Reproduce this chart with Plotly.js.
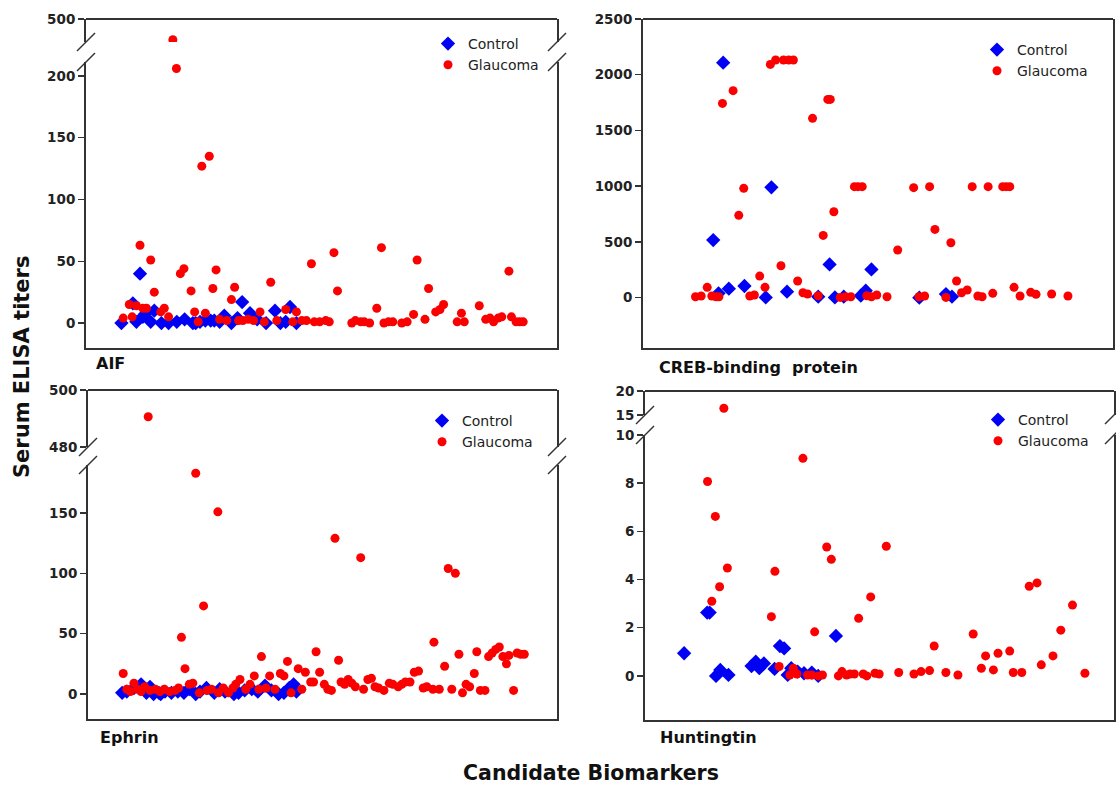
<!DOCTYPE html>
<html>
<head>
<meta charset="utf-8">
<script src="https://cdn.plot.ly/plotly-3.0.1.min.js"></script>
<style>html,body{margin:0;padding:0;background:#fff}#chart{width:1116px;height:786px}</style>
</head>
<body>
<div id="chart"></div>
<script>
// ---------------- DATA (sample position, titer) ----------------
const seriesNames = ['Control', 'Glaucoma'];
const panelNames = ['AIF', 'CREB-binding\u00a0 protein', 'Ephrin', 'Huntingtin'];

// AIF
const aifCtrlX = [34.0,37.2,38.2,39.2,40.0,40.5,42.2,43.2,45.2,47.2,49.5,51.7,54.0,54.8,56.0,57.5,59.0,60.0,61.5,62.8,64.8,66.5,67.8,70.0,72.0,74.5,77.0,78.5,80.0,81.2,83.0];
const aifCtrlY = [0,16,1,40,5,7,1,10,0,0,1,3,0,0,1,2,2,2,1,6,0,4,17,8,3,0,10,0,1,13,0];
const aifGlauX = [34.5,36.2,37.0,38.2,39.2,40.0,41.0,42.2,43.2,45.0,46.0,47.2,48.4,49.4,50.5,51.5,53.5,54.5,55.5,56.5,57.5,58.6,59.6,60.5,61.5,63.5,64.8,65.7,66.8,68.0,69.5,71.0,72.8,74.0,75.8,77.5,80.0,82.0,83.0,84.5,85.8,87.2,88.0,89.5,91.2,92.2,93.5,94.5,98.5,99.5,101.0,102.0,103.5,105.5,106.8,107.5,108.8,110.0,112.5,114.0,115.8,116.8,119.0,120.0,122.0,123.2,124.2,128.0,129.2,130.0,134.2,136.0,137.2,138.2,139.5,140.5,142.5,143.2,144.5,145.5,146.5];
const aifGlauY = [4,15,5,14,63,12,12,51,25,9,12,5,275,206,40,44,26,9,1,127,8,135,28,43,3,2,19,29,2,2,3,2,9,1,33,2,11,1,9,2,2,48,1,1,2,1,57,26,0,2,1,1,0,12,61,0,1,1,0,1,7,51,3,28,9,11,15,1,8,1,14,3,4,1,4,5,42,5,1,1,1];
const aifLowTicks = [0,50,100,150,200];
const aifUpTicks = [500];

// CREB-binding protein
const crebCtrlX = [43.2,44.7,46.0,47.6,52.0,58.0,59.6,64.0,72.8,76.0,77.5,80.0,84.8,86.2,87.8,101.3,108.8,110.5];
const crebCtrlY = [517,39,2108,81,105,3,990,54,9,299,3,9,18,63,254,0,33,9];
const crebGlauX = [38.2,39.8,41.5,42.8,44.0,44.8,45.8,48.8,50.4,51.8,53.5,54.8,56.3,57.8,59.3,60.8,62.3,63.0,64.5,65.8,67.0,68.5,69.8,71.2,72.8,74.2,75.5,76.2,77.2,79.0,80.5,82.0,83.0,84.0,85.2,86.5,87.8,89.3,92.2,95.2,99.7,101.2,102.8,104.2,105.7,108.8,110.2,111.8,113.2,114.8,116.2,117.8,119.0,120.7,122.0,124.8,125.8,126.8,128.0,129.7,132.7,134.2,138.6,143.2];
const crebGlauY = [9,15,93,15,9,9,1743,1857,739,981,15,24,194,93,2093,2132,287,2132,2132,2132,150,45,33,1609,18,559,1779,1779,771,3,9,9,996,996,996,18,9,24,9,428,987,9,15,996,613,3,493,150,45,69,996,15,9,996,39,996,996,996,93,15,48,30,33,15];
const crebTicks = [0,500,1000,1500,2000,2500];

// Ephrin
const ephCtrlX = [34.2,35.5,37.5,39.5,41.0,42.0,43.0,44.5,45.0,46.2,48.0,49.8,51.5,53.0,54.8,56.0,57.8,60.0,61.5,63.0,65.5,66.8,68.5,70.5,72.2,74.2,76.0,78.0,79.5,81.0,82.2,83.0];
const ephCtrlY = [1,2,5,8,1,6,0,1,0,2,1,2,1,4,0,2,5,1,4,2,0,1,3,4,2,7,3,0,1,5,8,2];
const ephGlauX = [34.5,35.5,36.5,37.5,38.5,39.5,40.5,41.5,42.0,43.5,44.8,46.0,47.5,49.0,50.0,50.8,51.8,53.0,54.0,54.8,55.8,57.0,58.0,59.2,61.0,61.2,62.5,64.0,65.2,66.0,67.2,68.8,70.0,71.2,72.5,73.2,74.5,75.5,77.0,78.5,79.5,80.5,81.5,83.5,84.5,85.5,87.0,87.8,88.5,89.5,90.8,91.8,92.8,93.8,94.8,95.5,96.5,97.5,98.5,99.5,101.0,101.8,103.0,104.0,105.0,106.0,107.5,109.0,110.0,111.5,112.5,113.5,114.8,116.0,117.2,118.5,119.5,121.2,121.5,123.0,124.5,125.5,126.5,127.5,128.5,129.5,130.5,131.5,132.8,133.5,134.5,135.8,136.8,137.8,138.8,139.8,140.8,141.8,142.5,143.8,144.8,145.8,146.8];
const ephGlauY = [17,4,2,9,4,2,6,490.6,3,4,2,4,2,3,5,47,21,8,9,183,1,73,3,4,151,1,5,1,5,8,12,4,8,15,4,31,5,15,4,17,15,27,1,21,4,18,10,10,35,18,8,4,3,129,28,10,8,12,9,6,113,4,12,13,6,5,3,9,8,6,8,10,10,18,19,5,6,4,43,4,23,104,4,100,33,1,8,6,17,35,3,3,31,34,37,39,31,25,32,3,34,33,33];
const ephLowTicks = [0,50,100,150];
const ephUpTicks = [480,500];

// Huntingtin
const hunCtrlX = [35.0,41.5,42.2,44.0,45.2,47.5,54.0,55.2,56.2,57.5,60.5,62.0,63.2,64.2,65.2,67.0,68.8,71.0,72.8,77.8];
const hunCtrlY = [0.94,2.63,2.63,0,0.25,0.04,0.41,0.59,0.32,0.52,0.29,1.24,1.14,0.04,0.32,0.18,0.11,0.14,0,1.66];
const hunGlauX = [41.6,42.8,43.8,45.0,46.2,47.2,59.6,60.6,61.8,64.8,65.8,66.8,68.5,69.8,71.0,71.8,72.8,74.0,75.2,76.5,78.5,79.5,80.8,81.8,83.0,84.2,85.5,86.5,87.6,88.8,90.0,92.0,95.5,99.8,101.8,104.2,105.5,108.8,112.2,116.5,118.8,120.0,122.2,123.5,126.8,127.8,130.2,132.3,134.5,135.7,139.0,141.2,144.5,148.0];
const hunGlauY = [8.07,3.10,6.62,3.70,16.4,4.48,2.46,4.34,0.39,0.04,0.32,0.08,9.03,0.04,0.04,1.83,0,0.04,5.35,4.84,0,0.18,0.04,0.08,0.08,2.39,0.08,0,3.28,0.11,0.08,5.38,0.14,0.08,0.18,0.22,1.24,0.14,0.04,1.74,0.32,0.83,0.25,0.94,1.03,0.14,0.14,3.72,3.86,0.46,0.83,1.90,2.94,0.11];
const hunLowTicks = [0,2,4,6,8,10];
const hunUpTicks = [15,20];

// ---------------- LAYOUT GEOMETRY (pixels in a 1116x786 page) ----------------
const W = 1116, H = 786;
const PX = v => v / W;
const PY = v => 1 - v / H;
const BLUE = 'rgb(0,0,245)';
const RED = 'rgb(250,0,0)';
const LINE = '#333333';
const FONT = '"DejaVu Sans", Arial, sans-serif';

const panels = [
  {cx: aifCtrlX, cy: aifCtrlY, gx: aifGlauX, gy: aifGlauY, xr: [24.08,155.96], xd: [86,557],
   low: {d: [62,348], r: [-20.2,211.3], t: aifLowTicks}, up: {d: [19,42], r: [250,500], t: aifUpTicks},
   leg: [448,43], lab: [94,363]},
  {cx: crebCtrlX, cy: crebCtrlY, gx: crebGlauX, gy: crebGlauY, xr: [23.4,155.9], xd: [643,1113],
   low: {d: [19,348], r: [-451,2500], t: crebTicks}, up: null,
   leg: [997,49], lab: [657,367]},
  {cx: ephCtrlX, cy: ephCtrlY, gx: ephGlauX, gy: ephGlauY, xr: [24.64,155.96], xd: [88,557],
   low: {d: [465,719], r: [-20.7,189.8], t: ephLowTicks}, up: {d: [390,447], r: [480,500], t: ephUpTicks},
   leg: [442,420], lab: [98,737]},
  {cx: hunCtrlX, cy: hunCtrlY, gx: hunGlauX, gy: hunGlauY, xr: [23.97,156.2], xd: [645,1114],
   low: {d: [435,720], r: [-1.83,10], t: hunLowTicks}, up: {d: [391,415], r: [15,20], t: hunUpTicks},
   leg: [998,419], lab: [658,737]}
];

const traces = [];
const layout = {
  width: W, height: H,
  margin: {l: 0, r: 0, t: 0, b: 0},
  paper_bgcolor: '#ffffff', plot_bgcolor: 'rgba(0,0,0,0)',
  showlegend: true,
  font: {family: FONT, color: '#222'},
  shapes: [], annotations: []
};

function split(xs, ys, brk) {
  const lo = {x: [], y: []}, hi = {x: [], y: []};
  xs.forEach((x, i) => { const t = ys[i] > brk ? hi : lo; t.x.push(x); t.y.push(ys[i]); });
  return [lo, hi];
}

const yAxisBase = {
  ticks: 'outside', ticklen: 6, tickwidth: 1.5, tickcolor: LINE,
  showline: true, mirror: true, linewidth: 2, linecolor: LINE,
  showgrid: false, zeroline: false, fixedrange: true,
  tickfont: {family: FONT, size: 13.5, color: '#222', weight: 700}
};

let yCount = 0;
panels.forEach((p, i) => {
  const xs = i === 0 ? '' : String(i + 1);
  const xName = 'x' + xs;
  yCount++;
  const ylNum = yCount;
  const ylName = 'y' + (ylNum === 1 ? '' : ylNum);
  let yuName = null;
  layout['xaxis' + xs] = {
    domain: [PX(p.xd[0]), PX(p.xd[1])], range: p.xr, anchor: ylName,
    showline: true, linewidth: 2, linecolor: LINE, showticklabels: false, ticks: '',
    showgrid: false, zeroline: false, fixedrange: true
  };
  layout['yaxis' + (ylNum === 1 ? '' : ylNum)] = Object.assign({}, yAxisBase, {
    domain: [PY(p.low.d[1]), PY(p.low.d[0])], range: p.low.r, anchor: xName,
    tickmode: 'array', tickvals: p.low.t
  });
  if (p.up) {
    yCount++;
    yuName = 'y' + yCount;
    layout['yaxis' + yCount] = Object.assign({}, yAxisBase, {
      domain: [PY(p.up.d[1]), PY(p.up.d[0])], range: p.up.r, anchor: xName,
      tickmode: 'array', tickvals: p.up.t
    });
  }
  const legName = i === 0 ? 'legend' : 'legend' + (i + 1);
  layout[legName] = {
    x: PX(p.leg[0] - 20), y: PY(p.leg[1] - 15), xanchor: 'left', yanchor: 'top',
    bgcolor: 'rgba(0,0,0,0)', borderwidth: 0,
    font: {family: FONT, size: 14, color: '#222'}, itemclick: false
  };
  const brk = p.low.r[1];
  const sets = [
    {xs: p.cx, ys: p.cy, name: seriesNames[0], marker: {symbol: 'diamond', size: 11, color: BLUE}},
    {xs: p.gx, ys: p.gy, name: seriesNames[1], marker: {symbol: 'circle', size: 9, color: RED}}
  ];
  sets.forEach(s => {
    const [lo, hi] = split(s.xs, s.ys, brk);
    traces.push({type: 'scatter', mode: 'markers', x: lo.x, y: lo.y, xaxis: xName, yaxis: ylName,
      name: s.name, legend: legName, showlegend: true, marker: s.marker, hoverinfo: 'x+y'});
    if (yuName && hi.x.length) {
      traces.push({type: 'scatter', mode: 'markers', x: hi.x, y: hi.y, xaxis: xName, yaxis: yuName,
        name: s.name, legend: legName, showlegend: false, marker: s.marker, hoverinfo: 'x+y'});
    }
  });
  // top border line of the panel box
  const topY = p.up ? p.up.d[0] : p.low.d[0];
  layout.shapes.push({type: 'line', xref: 'paper', yref: 'paper', x0: PX(p.xd[0]), x1: PX(p.xd[1]),
    y0: PY(topY), y1: PY(topY), line: {color: LINE, width: 2}});
  // axis break marks
  if (p.up) {
    [p.xd[0], p.xd[1]].forEach(ax => {
      [p.up.d[1], p.low.d[0]].forEach(yc => {
        layout.shapes.push({type: 'line', xref: 'paper', yref: 'paper',
          x0: PX(ax - 9), y0: PY(yc + 9), x1: PX(ax + 9), y1: PY(yc - 9),
          line: {color: LINE, width: 1.5}});
      });
    });
  }
  layout.annotations.push({text: panelNames[i], xref: 'paper', yref: 'paper',
    x: PX(p.lab[0]), y: PY(p.lab[1]), xanchor: 'left', yanchor: 'middle', showarrow: false,
    font: {family: FONT, size: 16, color: '#111', weight: 700}});
});

layout.annotations.push({text: 'Serum ELISA titers', xref: 'paper', yref: 'paper',
  x: PX(22), y: PY(367), xanchor: 'center', yanchor: 'middle', textangle: -90, showarrow: false,
  font: {family: FONT, size: 21, color: '#111', weight: 700}});
layout.annotations.push({text: 'Candidate Biomarkers', xref: 'paper', yref: 'paper',
  x: PX(591), y: PY(773), xanchor: 'center', yanchor: 'middle', showarrow: false,
  font: {family: FONT, size: 20.5, color: '#111', weight: 700}});

Plotly.newPlot('chart', traces, layout, {displayModeBar: false, staticPlot: true});
</script>
</body>
</html>
